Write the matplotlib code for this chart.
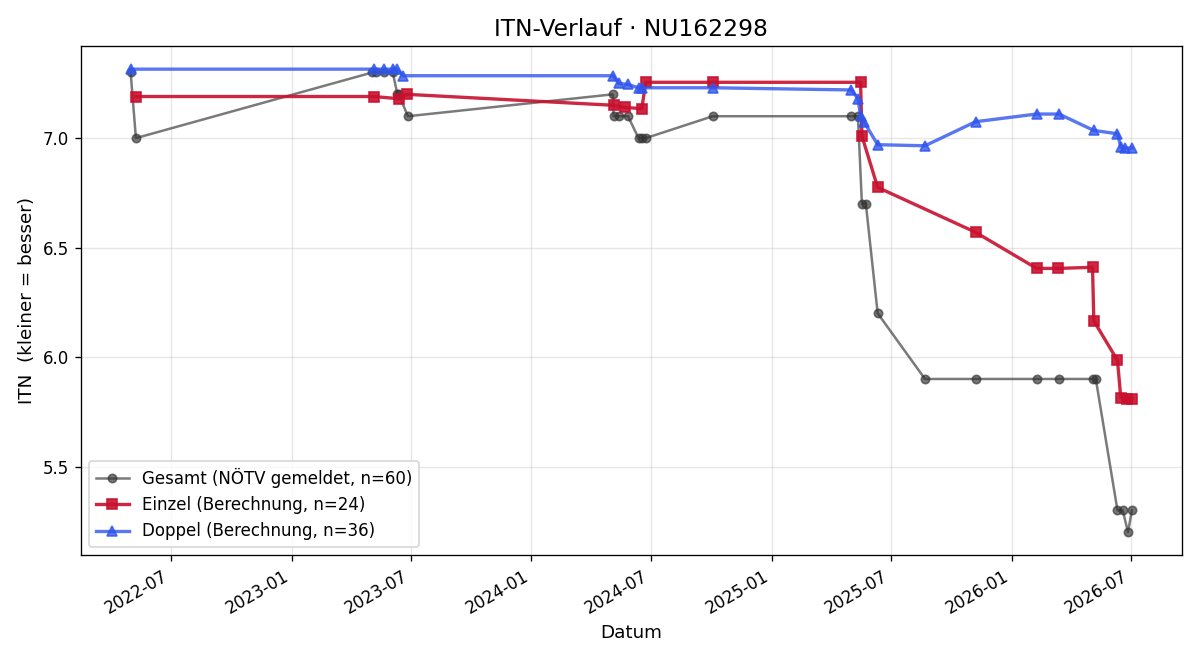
import pandas as pd
import matplotlib.pyplot as plt
import matplotlib.dates as mdates

# -------------------------------
# Daten
# -------------------------------
gesamt_dates = ["2022-05-01", "2022-05-09", "2023-05-04", "2023-05-09", "2023-05-21",
                "2023-06-04", "2023-06-11", "2023-06-13", "2023-06-27",
                "2024-05-04", "2024-05-05", "2024-05-13", "2024-05-27", "2024-06-12",
                "2024-06-18", "2024-06-23", "2024-10-03", "2025-05-02", "2025-05-12",
                "2025-05-18", "2025-05-24", "2025-06-11", "2025-08-22", "2025-11-07",
                "2026-02-08", "2026-03-14", "2026-05-04", "2026-05-09", "2026-06-11",
                "2026-06-19", "2026-06-27", "2026-07-03"]
gesamt_itn = [7.30, 7.00, 7.30, 7.30, 7.30,
              7.30, 7.20, 7.20, 7.10,
              7.20, 7.10, 7.10, 7.10, 7.00,
              7.00, 7.00, 7.10, 7.10, 7.10,
              6.70, 6.70, 6.20, 5.90, 5.90,
              5.90, 5.90, 5.90, 5.90, 5.30,
              5.30, 5.20, 5.30]

einzel_dates = ["2022-05-09", "2023-05-06", "2023-06-13", "2023-06-25",
                "2024-05-05", "2024-05-22", "2024-06-17", "2024-06-23",
                "2024-10-03", "2025-05-16", "2025-05-18", "2025-06-11",
                "2025-11-07", "2026-02-08", "2026-03-13", "2026-05-04",
                "2026-05-06", "2026-06-11", "2026-06-16", "2026-06-25", "2026-07-03"]
einzel_itn = [7.19, 7.19, 7.18, 7.20,
              7.15, 7.14, 7.135, 7.255,
              7.255, 7.255, 7.01, 6.775,
              6.57, 6.405, 6.405, 6.41,
              6.165, 5.985, 5.815, 5.81, 5.81]

doppel_dates = ["2022-05-01", "2023-05-06", "2023-05-21", "2023-06-04", "2023-06-11",
                "2023-06-19", "2024-05-04", "2024-05-13", "2024-05-27", "2024-06-12",
                "2024-06-18", "2024-10-03", "2025-05-02", "2025-05-12", "2025-05-16",
                "2025-05-21", "2025-06-11", "2025-08-22", "2025-11-07", "2026-02-08",
                "2026-03-14", "2026-05-06", "2026-06-11", "2026-06-16", "2026-06-22",
                "2026-07-03"]
doppel_itn = [7.315, 7.315, 7.315, 7.315, 7.315,
              7.285, 7.285, 7.25, 7.245, 7.23,
              7.23, 7.23, 7.22, 7.18, 7.10,
              7.075, 6.97, 6.965, 7.075, 7.11,
              7.11, 7.035, 7.02, 6.96, 6.955,
              6.955]

# -------------------------------
# Grafik
# -------------------------------
fig, ax = plt.subplots(figsize=(10, 5.5), dpi=120)

ax.plot(pd.to_datetime(gesamt_dates), gesamt_itn, marker="o", markersize=5,
        color="#333333", alpha=0.65, linewidth=1.5,
        label="Gesamt (NÖTV gemeldet, n=60)")
ax.plot(pd.to_datetime(einzel_dates), einzel_itn, marker="s", markersize=6,
        color="#c8102e", alpha=0.9, linewidth=2,
        label="Einzel (Berechnung, n=24)")
ax.plot(pd.to_datetime(doppel_dates), doppel_itn, marker="^", markersize=6,
        color="#2f55ee", alpha=0.8, linewidth=2,
        label="Doppel (Berechnung, n=36)")

ax.set_title("ITN-Verlauf · NU162298", fontsize=14)
ax.set_xlabel("Datum", fontsize=11)
ax.set_ylabel("ITN  (kleiner = besser)", fontsize=11)
ax.xaxis.set_major_locator(mdates.MonthLocator(bymonth=[1, 7]))
ax.xaxis.set_major_formatter(mdates.DateFormatter("%Y-%m"))
ax.grid(True, alpha=0.3)
ax.legend(loc="lower left")
fig.autofmt_xdate()
plt.tight_layout()
plt.savefig("out.png")
